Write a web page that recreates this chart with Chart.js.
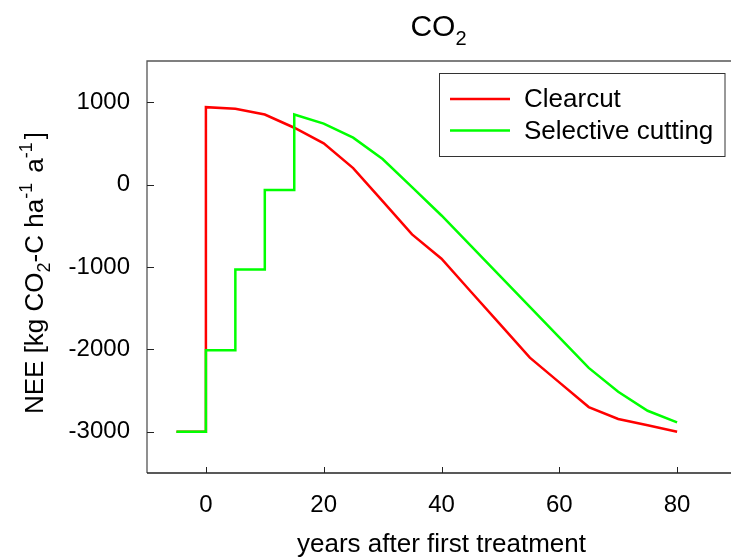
<!DOCTYPE html>
<html>
<head>
<meta charset="utf-8">
<script src="https://cdn.jsdelivr.net/npm/chart.js@4"></script>
<style>
  html, body { margin: 0; padding: 0; background: #fff; overflow: hidden; }
  #wrap { width: 731px; height: 558px; overflow: hidden; }
</style>
</head>
<body>
<div id="wrap"><canvas id="neeChart" width="760" height="558"></canvas></div>
<script>
// years after first treatment, vertical steps are repeated x values
const clearcutYears = [-5, 0, 0, 5, 10, 15, 20, 25, 30, 35, 40, 45, 50, 55, 60, 65, 70, 75, 80];
const clearcutNEE = [-3000, -3000, 940, 920, 850, 690, 500, 200, -200, -605, -900, -1300, -1700, -2100, -2400, -2700, -2845, -2920, -3000];

const selectiveYears = [-5, 0, 0, 5, 5, 10, 10, 15, 15, 20, 25, 30, 35, 40, 45, 50, 55, 60, 65, 70, 75, 80];
const selectiveNEE = [-3000, -3000, -2010, -2010, -1030, -1030, -65, -65, 850, 740, 570, 310, -30, -375, -745, -1115, -1485, -1855, -2225, -2515, -2745, -2885];

const xTicks = [0, 20, 40, 60, 80];
const yTicks = [-3000, -2000, -1000, 0, 1000];

const FONT = "'Liberation Sans', Arial, Helvetica, sans-serif";
Chart.defaults.font.family = FONT;
Chart.defaults.color = "#000";

function toPoints(xs, ys) {
	return xs.map((x, i) => ({ x: x, y: ys[i] }));
}

// write a run of text pieces, some raised or lowered, starting at x
function drawRich(ctx, parts, x, y) {
	parts.forEach((p) => {
		ctx.font = p.size + "px " + FONT;
		ctx.fillText(p.text, x, y + (p.dy || 0));
		x += ctx.measureText(p.text).width + (p.gap || 0);
	});
}

function richWidth(ctx, parts) {
	let w = 0;
	parts.forEach((p) => {
		ctx.font = p.size + "px " + FONT;
		w += ctx.measureText(p.text).width + (p.gap || 0);
	});
	return w;
}

const framePlugin = {
	id: "frame",
	afterDatasetsDraw(chart) {
		const ctx = chart.ctx;
		const a = chart.chartArea;
		const xs = chart.scales.x;
		const ys = chart.scales.y;
		ctx.save();

		// axes box (no right edge inside the canvas view)
		ctx.lineWidth = 1.3;
		ctx.strokeStyle = "#555";
		ctx.beginPath();
		ctx.moveTo(a.left, a.bottom);
		ctx.lineTo(a.left, a.top);
		ctx.lineTo(chart.width, a.top);
		ctx.stroke();
		ctx.strokeStyle = "#222";
		ctx.beginPath();
		ctx.moveTo(a.left, a.bottom);
		ctx.lineTo(chart.width, a.bottom);
		ctx.stroke();

		// inward tick marks
		ctx.lineWidth = 1;
		ctx.strokeStyle = "#222";
		ctx.beginPath();
		xs.ticks.forEach((t) => {
			const px = Math.round(xs.getPixelForValue(t.value)) + 0.5;
			ctx.moveTo(px, a.bottom);
			ctx.lineTo(px, a.bottom - 6);
		});
		ys.ticks.forEach((t) => {
			const py = Math.round(ys.getPixelForValue(t.value)) + 0.5;
			ctx.moveTo(a.left, py);
			ctx.lineTo(a.left + 7, py);
		});
		ctx.stroke();

		// legend box
		const bx = 439.5, by = 73.5, bw = 285.5, bh = 83;
		ctx.fillStyle = "#fff";
		ctx.fillRect(bx, by, bw, bh);
		ctx.strokeStyle = "#333";
		ctx.lineWidth = 1;
		ctx.strokeRect(bx, by, bw, bh);
		ctx.font = "26px " + FONT;
		ctx.textBaseline = "middle";
		ctx.textAlign = "left";
		chart.data.datasets.forEach((ds, i) => {
			const ly = 99 + i * 31.5;
			ctx.strokeStyle = ds.borderColor;
			ctx.lineWidth = 2.5;
			ctx.beginPath();
			ctx.moveTo(450, ly);
			ctx.lineTo(510, ly);
			ctx.stroke();
			ctx.fillStyle = "#000";
			ctx.fillText(ds.label, 524, ly + 1);
		});

		// title with subscript
		ctx.fillStyle = "#000";
		ctx.textBaseline = "alphabetic";
		const titleParts = [
			{ text: "CO", size: 30 },
			{ text: "2", size: 20, dy: 9 },
		];
		const tw = richWidth(ctx, titleParts);
		drawRich(ctx, titleParts, (a.left + 736) / 2 - tw / 2 - 3, 36);

		// y axis title, rotated
		const yParts = [
			{ text: "NEE [kg CO", size: 26 },
			{ text: "2", size: 18, dy: 7 },
			{ text: "-C ha", size: 26 },
			{ text: "-1", size: 18, dy: -11, gap: 3 },
			{ text: " a", size: 26 },
			{ text: "-1", size: 18, dy: -11, gap: 3 },
			{ text: "]", size: 26 },
		];
		const yw = richWidth(ctx, yParts);
		ctx.translate(43, 273);
		ctx.rotate(-Math.PI / 2);
		drawRich(ctx, yParts, -yw / 2, 0);

		ctx.restore();
	},
};

new Chart(document.getElementById("neeChart"), {
	type: "line",
	data: {
		datasets: [
			{
				label: "Clearcut",
				data: toPoints(clearcutYears, clearcutNEE),
				borderColor: "#ff0000",
				borderWidth: 2.5,
				pointRadius: 0,
				tension: 0,
				order: 1,
			},
			{
				label: "Selective cutting",
				data: toPoints(selectiveYears, selectiveNEE),
				borderColor: "#00ff00",
				borderWidth: 2.5,
				pointRadius: 0,
				tension: 0,
				order: 0,
			},
		],
	},
	options: {
		responsive: false,
		animation: false,
		layout: {
			padding: { top: 61, right: 24, bottom: 0, left: 0 },
		},
		plugins: {
			legend: { display: false },
			tooltip: { enabled: false },
		},
		scales: {
			x: {
				type: "linear",
				min: -10,
				max: 90,
				afterBuildTicks: (scale) => {
					scale.ticks = xTicks.map((v) => ({ value: v }));
				},
				afterFit: (scale) => {
					scale.height = 85;
				},
				grid: { display: false, drawTicks: false },
				border: { display: false },
				ticks: {
					font: { size: 24 },
					padding: 18,
					maxRotation: 0,
					autoSkip: false,
					callback: (v) => String(v),
				},
				title: {
					display: true,
					text: "years after first treatment",
					font: { size: 26 },
					padding: { top: 0, bottom: -2 },
				},
			},
			y: {
				type: "linear",
				min: -3500,
				max: 1500,
				afterBuildTicks: (scale) => {
					scale.ticks = yTicks.map((v) => ({ value: v }));
				},
				afterFit: (scale) => {
					scale.width = 147;
				},
				grid: { display: false, drawTicks: false },
				border: { display: false },
				ticks: {
					font: { size: 24 },
					padding: 17,
					autoSkip: false,
					callback: (v) => String(v),
				},
			},
		},
	},
	plugins: [framePlugin],
});
</script>
</body>
</html>
